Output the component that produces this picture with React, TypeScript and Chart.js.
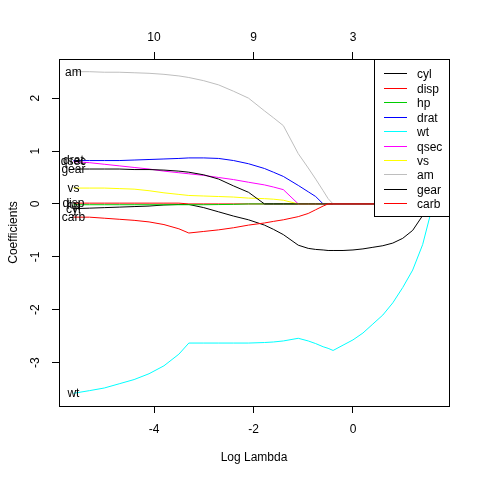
import React, { useEffect, useRef } from "react";
import { Chart, registerables } from "chart.js";

Chart.register(...registerables);

// Log(lambda) grid along the path
const logLambda = [
  -5.62, -5.3, -5.0, -4.7, -4.4, -4.1, -3.8, -3.5, -3.3, -3.0, -2.7, -2.4, -2.1,
  -1.78, -1.6, -1.4, -1.1, -0.9, -0.75, -0.6, -0.5, -0.4, -0.2, 0, 0.2, 0.4, 0.6,
  0.8, 1.0, 1.2, 1.4, 1.55, 1.64,
];

// Coefficient paths
const cyl = [
  -0.09, -0.08, -0.07, -0.06, -0.05, -0.04, -0.02, -0.01, -0.01, -0.07, -0.15, -0.23, -0.3,
  -0.4, -0.48, -0.58, -0.78, -0.84, -0.86, -0.87, -0.88, -0.88, -0.88, -0.87, -0.85, -0.82, -0.79,
  -0.74, -0.65, -0.5, -0.22, 0, 0,
];
const disp = [
  0.015, 0.015, 0.015, 0.015, 0.015, 0.015, 0.015, 0.015, 0, 0, 0, 0, 0,
  0, 0, 0, 0, 0, 0, 0, 0, 0, 0, 0, 0, 0, 0,
  0, 0, 0, 0, 0, 0,
];
const hp = [
  -0.015, -0.015, -0.015, -0.015, -0.015, -0.015, -0.015, -0.015, -0.015, -0.015, -0.012, -0.008, 0,
  0, 0, 0, 0, 0, 0, 0, 0, 0, 0, 0, 0, 0, 0,
  0, 0, 0, 0, 0, 0,
];
const drat = [
  0.82, 0.82, 0.82, 0.82, 0.83, 0.84, 0.85, 0.86, 0.87, 0.87, 0.86, 0.82, 0.76,
  0.67, 0.6, 0.52, 0.35, 0.23, 0.14, 0, 0, 0, 0, 0, 0, 0, 0,
  0, 0, 0, 0, 0, 0,
];
const wt = [
  -3.58, -3.53, -3.48, -3.4, -3.32, -3.21, -3.06, -2.84, -2.63, -2.63, -2.63, -2.63, -2.63,
  -2.62, -2.61, -2.59, -2.54, -2.59, -2.64, -2.7, -2.73, -2.77, -2.67, -2.57, -2.44, -2.27, -2.1,
  -1.87, -1.58, -1.25, -0.77, -0.22, 0,
];
const qsec = [
  0.8, 0.78, 0.75, 0.72, 0.69, 0.66, 0.62, 0.59, 0.57, 0.54, 0.5, 0.46, 0.41,
  0.36, 0.32, 0.27, 0, 0, 0, 0, 0, 0, 0, 0, 0, 0, 0,
  0, 0, 0, 0, 0, 0,
];
const vs = [
  0.3, 0.3, 0.3, 0.29, 0.28, 0.25, 0.21, 0.18, 0.16, 0.15, 0.14, 0.13, 0.11,
  0.1, 0.09, 0.07, 0, 0, 0, 0, 0, 0, 0, 0, 0, 0, 0,
  0, 0, 0, 0, 0, 0,
];
const am = [
  2.5, 2.5, 2.49, 2.49, 2.48, 2.47, 2.45, 2.42, 2.39, 2.33, 2.25, 2.13, 2.0,
  1.76, 1.63, 1.48, 0.95, 0.68, 0.47, 0.25, 0.1, 0, 0, 0, 0, 0, 0,
  0, 0, 0, 0, 0, 0,
];
const gear = [
  0.66, 0.66, 0.66, 0.66, 0.65, 0.65, 0.64, 0.62, 0.6, 0.55, 0.47, 0.34, 0.22,
  0, 0, 0, 0, 0, 0, 0, 0, 0, 0, 0, 0, 0, 0,
  0, 0, 0, 0, 0, 0,
];
const carb = [
  -0.25, -0.25, -0.27, -0.29, -0.31, -0.34, -0.39, -0.47, -0.55, -0.52, -0.49, -0.45, -0.4,
  -0.36, -0.33, -0.3, -0.24, -0.18, -0.11, -0.04, 0, 0, 0, 0, 0, 0, 0,
  0, 0, 0, 0, 0, 0,
];

const seriesNames = ["cyl", "disp", "hp", "drat", "wt", "qsec", "vs", "am", "gear", "carb"];
const seriesValues = [cyl, disp, hp, drat, wt, qsec, vs, am, gear, carb];
const seriesColors = [
  "#000000", "#FF0000", "#00CD00", "#0000FF", "#00FFFF",
  "#FF00FF", "#FFFF00", "#BEBEBE", "#000000", "#FF0000",
];

const bottomTicks = [-4, -2, 0];
const topTickValues = [-4, -2, 0];
const topTickLabels = ["10", "9", "3"];
const yTicks = [-3, -2, -1, 0, 1, 2];

const xTitle = "Log Lambda";
const yTitle = "Coefficients";

const FONT_FAMILY = '"Liberation Sans", Arial, Helvetica, sans-serif';
const FONT = `12px ${FONT_FAMILY}`;

const rPlugin = {
  id: "rDecor",
  afterDatasetsDraw(chart: any) {
    const { ctx, scales } = chart;
    const x = scales.x;
    const y = scales.y;
    ctx.save();
    ctx.font = FONT;
    ctx.fillStyle = "#000";
    ctx.textAlign = "center";
    ctx.textBaseline = "middle";
    chart.data.datasets.forEach((ds: any) => {
      const p = ds.data[0];
      ctx.fillText(ds.label, x.getPixelForValue(p.x), y.getPixelForValue(p.y) + 0.5);
    });
    ctx.restore();
  },
  afterDraw(chart: any) {
    const { ctx, chartArea: a, scales } = chart;
    const y = scales.y;
    ctx.save();
    ctx.lineWidth = 1;
    ctx.font = FONT;
    ctx.fillStyle = "#000";

    // y tick labels (rotated, as in R)
    y.ticks.forEach((t: any) => {
      const py = y.getPixelForValue(t.value);
      ctx.save();
      ctx.translate(a.left - 20, py);
      ctx.rotate(-Math.PI / 2);
      ctx.textAlign = "center";
      ctx.textBaseline = "alphabetic";
      ctx.fillText(String(t.value), 0, 0);
      ctx.restore();
    });

    // axis titles
    ctx.textAlign = "center";
    ctx.textBaseline = "middle";
    ctx.fillText(xTitle, (a.left + a.right) / 2, 458);
    ctx.save();
    ctx.translate(16.5, (a.top + a.bottom) / 2);
    ctx.rotate(-Math.PI / 2);
    ctx.textBaseline = "alphabetic";
    ctx.fillText(yTitle, 0, 0);
    ctx.restore();

    // legend box
    const bw = 75;
    const bh = 157;
    const bx = a.right - bw;
    const by = a.top;
    ctx.fillStyle = "#fff";
    ctx.fillRect(bx, by, bw + 1, bh + 1);
    ctx.strokeStyle = "#000";
    ctx.strokeRect(bx + 0.5, by + 0.5, bw, bh);
    seriesNames.forEach((name, i) => {
      const ly = Math.round(by + 14.3 + 14.44 * i) + 0.5;
      ctx.beginPath();
      ctx.strokeStyle = seriesColors[i];
      ctx.lineWidth = 1;
      ctx.moveTo(bx + 10, ly);
      ctx.lineTo(bx + 33, ly);
      ctx.stroke();
      ctx.fillStyle = "#000";
      ctx.textAlign = "left";
      ctx.textBaseline = "middle";
      ctx.fillText(name, bx + 43, ly + 1);
    });

    // plot frame
    ctx.strokeStyle = "#000";
    ctx.strokeRect(a.left + 0.5, a.top + 0.5, a.right - a.left, a.bottom - a.top);
    ctx.restore();
  },
};

export default function App() {
  const ref = useRef<HTMLCanvasElement>(null);

  useEffect(() => {
    const datasets = seriesNames.map((name, i) => ({
      label: name,
      data: logLambda.map((lx, j) => ({ x: lx, y: seriesValues[i][j] })),
      borderColor: seriesColors[i],
      backgroundColor: seriesColors[i],
      borderWidth: 1,
      pointRadius: 0,
      tension: 0,
      fill: false,
      order: 10 - i,
    }));

    const gridOpts = {
      drawOnChartArea: false,
      drawTicks: true,
      tickLength: 7,
      color: "#000",
      lineWidth: 1,
    };

    const chart = new Chart(ref.current as HTMLCanvasElement, {
      type: "line",
      data: { datasets },
      options: {
        responsive: false,
        animation: false,
        devicePixelRatio: 1,
        layout: { padding: { left: 0, top: 0, right: 31, bottom: 0 } },
        plugins: {
          legend: { display: false },
          tooltip: { enabled: false },
        },
        scales: {
          x: {
            type: "linear",
            position: "bottom",
            min: -5.91,
            max: 1.93,
            grid: gridOpts,
            border: { display: false },
            ticks: {
              color: "#000",
              font: { size: 12, family: FONT_FAMILY },
              padding: 9,
              maxRotation: 0,
              autoSkip: false,
            },
            afterBuildTicks: (s: any) => {
              s.ticks = bottomTicks.map((v) => ({ value: v }));
            },
            afterFit: (s: any) => {
              s.height = 74;
            },
          },
          x2: {
            type: "linear",
            position: "top",
            min: -5.91,
            max: 1.93,
            grid: gridOpts,
            border: { display: false },
            ticks: {
              color: "#000",
              font: { size: 12, family: FONT_FAMILY },
              padding: 7,
              maxRotation: 0,
              autoSkip: false,
              callback: (v: any) => {
                const k = topTickValues.indexOf(Number(v));
                return k >= 0 ? topTickLabels[k] : "";
              },
            },
            afterBuildTicks: (s: any) => {
              s.ticks = topTickValues.map((v) => ({ value: v }));
            },
            afterFit: (s: any) => {
              s.height = 59;
            },
          },
          y: {
            type: "linear",
            position: "left",
            min: -3.82,
            max: 2.74,
            grid: gridOpts,
            border: { display: false },
            ticks: { display: false },
            afterBuildTicks: (s: any) => {
              s.ticks = yTicks.map((v) => ({ value: v }));
            },
            afterFit: (s: any) => {
              s.width = 59;
            },
          },
        },
      },
      plugins: [rPlugin],
    } as any);

    return () => chart.destroy();
  }, []);

  return (
    <div
      style={{
        position: "absolute",
        left: 0,
        top: 0,
        width: 480,
        height: 480,
        background: "#fff",
      }}
    >
      <canvas ref={ref} width={480} height={480} style={{ display: "block" }} />
    </div>
  );
}
